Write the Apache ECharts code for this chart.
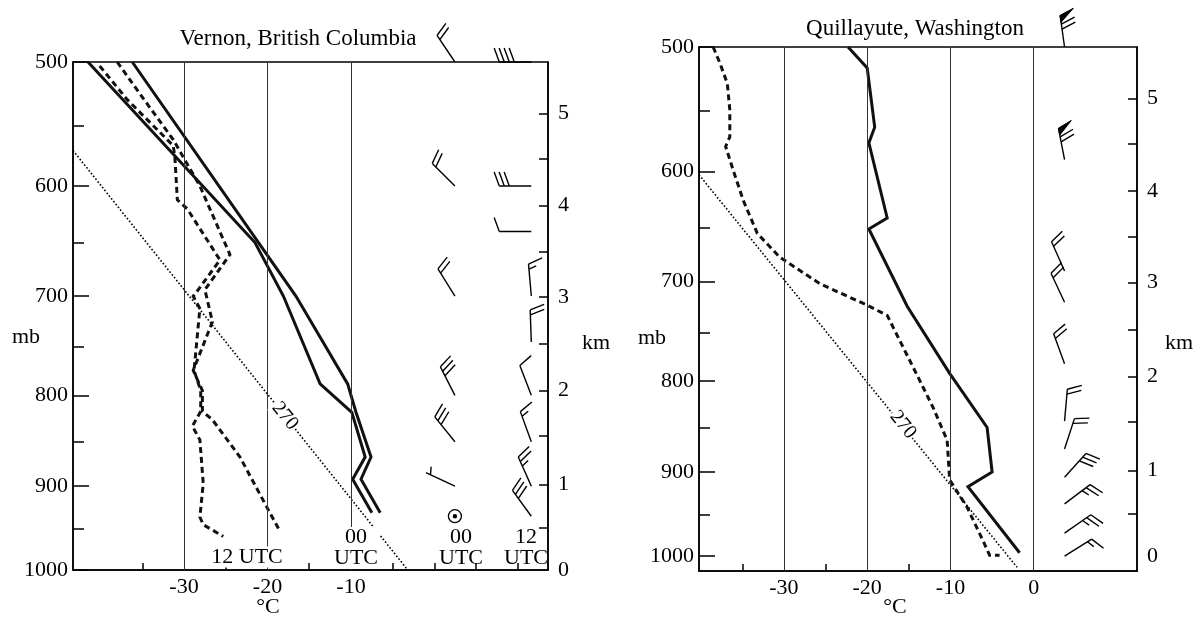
<!DOCTYPE html>
<html>
<head>
<meta charset="utf-8">
<script src="https://cdn.jsdelivr.net/npm/echarts@6/dist/echarts.min.js"></script>
<style>
  html, body { margin: 0; padding: 0; background: #fff; }
  #chart { width: 1202px; height: 618px; }
</style>
</head>
<body>
<div id="chart"></div>
<script>
// Stuve diagram: y is p^kappa, x is temperature
var KAPPA = 0.286;
function kap(p) { return Math.pow(p, KAPPA); }
function unkap(v) { return Math.pow(v, 1 / KAPPA); }

// axes
var pressureTicks = [500, 600, 700, 800, 900, 1000];
var pressureMinorTicks = [550, 650, 750, 850, 950];
var kmTicks = [0, 0.5, 1, 1.5, 2, 2.5, 3, 3.5, 4, 4.5, 5];
var kmPressure = [1000, 949, 898, 844, 795, 747, 701, 658, 617, 577, 540];
var vernonTempLabels = [-30, -20, -10];
var vernonTempTicks = [-35, -25, -15, -5, 0, 5, 10];
var quillTempLabels = [-30, -20, -10, 0];
var quillTempTicks = [-35, -25, -15];

// Vernon soundings [T degC, p mb]
var vernonTemp12 = [[-41.5, 500], [-21.5, 650], [-18.1, 700], [-13.7, 788], [-9.9, 818], [-8.3, 867], [-9.8, 892], [-7.5, 931]];
var vernonTemp00 = [[-36.2, 500], [-16.6, 700], [-10.4, 788], [-9.4, 818], [-7.6, 867], [-8.8, 892], [-6.5, 931]];
var vernonDew00 = [[-38.0, 500], [-35.0, 527], [-31.3, 561], [-28.1, 600], [-24.5, 661], [-27.5, 694], [-26.6, 725],
  [-28.9, 774], [-27.8, 795], [-27.8, 817], [-26.6, 826], [-23.3, 867], [-20.1, 924], [-18.5, 953]];
var vernonDew12 = [[-40.1, 503], [-36.8, 529], [-31.3, 566], [-31.1, 575], [-30.8, 612], [-29.6, 620], [-25.7, 666],
  [-28.3, 694], [-28.9, 700], [-28.1, 712], [-28.8, 774], [-28.0, 795], [-28.0, 817], [-29.0, 833], [-28.1, 848],
  [-27.7, 897], [-28.1, 936], [-27.7, 945], [-25.3, 959]];
var vernonAdiabat = [[-43.3, 570], [-3.2, 1000]];
var vernonAdiabatLabel = [-17.9, 822];

// Vernon winds: pressure, direction (deg), speed (kt); 0 kt = calm
var vernonWindP00 = [500, 600, 700, 800, 850, 900, 935];
var vernonWindDir00 = [326, 315, 328, 333, 321, 295, 0];
var vernonWindKt00 = [20, 20, 20, 30, 30, 5, 0];
var vernonWindP12 = [500, 600, 640, 700, 745, 800, 850, 900, 935];
var vernonWindDir12 = [270, 270, 270, 355, 358, 339, 340, 336, 324];
var vernonWindKt12 = [40, 30, 10, 15, 20, 10, 15, 25, 30];

// Quillayute sounding
var quillTemp = [[-22.3, 500], [-20.0, 516], [-19.1, 563], [-19.8, 576], [-17.6, 641], [-19.8, 651], [-15.2, 724],
  [-10.1, 792], [-5.6, 850], [-5.0, 900], [-7.9, 917], [-1.7, 996]];
var quillDew = [[-38.5, 500], [-37.7, 512], [-36.8, 528], [-36.5, 549], [-36.5, 571], [-37.0, 579], [-36.1, 599],
  [-34.9, 625], [-33.2, 655], [-30.5, 677], [-25.7, 702], [-20.0, 723], [-17.6, 733], [-16.1, 758], [-14.0, 794],
  [-12.1, 828], [-10.4, 864], [-10.1, 909], [-8.0, 941], [-6.1, 981], [-5.3, 999], [-4.1, 999]];
var quillAdiabat = [[-40.2, 603], [-2.0, 1014]];
var quillAdiabatLabel = [-15.7, 847];
var quillWindP = [500, 590, 690, 720, 782, 843, 874, 906, 937, 972, 1000];
var quillWindDir = [352, 349, 336, 335, 340, 5, 18, 42, 53, 55, 58];
var quillWindKt = [70, 70, 20, 20, 20, 20, 20, 30, 25, 25, 15];

var FONT = '"Liberation Serif", "DejaVu Serif", serif';
var STAFF = 32, FULL = 15, HALF = 8, GAP = 5, FLAG_W = 7, BARB_ANGLE = 70;

function toXY(arr) {
  return arr.map(function (d) { return [d[0], kap(d[1])]; });
}
function windData(col, ps, dirs, kts) {
  return ps.map(function (p, i) { return [col, kap(p), dirs[i], kts[i]]; });
}

function renderBarb(params, api) {
  var b = api.coord([api.value(0), api.value(1)]);
  var speed = api.value(3);
  var st = { stroke: '#000', lineWidth: 1.4, fill: null };
  if (speed === 0) {
    return { type: 'group', children: [
      { type: 'circle', shape: { cx: b[0], cy: b[1], r: 6.5 }, style: { stroke: '#000', fill: '#fff', lineWidth: 1.3 } },
      { type: 'circle', shape: { cx: b[0], cy: b[1], r: 2.2 }, style: { fill: '#000' } }
    ] };
  }
  var dir = api.value(2) * Math.PI / 180;
  var ux = Math.sin(dir), uy = -Math.cos(dir);
  var a = BARB_ANGLE * Math.PI / 180;
  var wx = ux * Math.cos(a) - uy * Math.sin(a);
  var wy = ux * Math.sin(a) + uy * Math.cos(a);
  var tx = b[0] + ux * STAFF, ty = b[1] + uy * STAFF;
  var kids = [{ type: 'line', shape: { x1: b[0], y1: b[1], x2: tx, y2: ty }, style: st }];
  var rest = Math.round(speed / 5) * 5;
  var d = 0;
  while (rest >= 50) {
    var px = tx - ux * d, py = ty - uy * d;
    kids.push({ type: 'polygon', shape: { points: [[px, py], [px + wx * FULL, py + wy * FULL],
      [px - ux * FLAG_W, py - uy * FLAG_W]] }, style: { fill: '#000', stroke: '#000', lineWidth: 1 } });
    d += FLAG_W + 2;
    rest -= 50;
  }
  while (rest >= 10) {
    var qx = tx - ux * d, qy = ty - uy * d;
    kids.push({ type: 'line', shape: { x1: qx, y1: qy, x2: qx + wx * FULL, y2: qy + wy * FULL }, style: st });
    d += GAP;
    rest -= 10;
  }
  if (rest >= 5) {
    if (d === 0) d = GAP;
    var hx = tx - ux * d, hy = ty - uy * d;
    kids.push({ type: 'line', shape: { x1: hx, y1: hy, x2: hx + wx * HALF, y2: hy + wy * HALF }, style: st });
  }
  return { type: 'group', children: kids };
}

function curve(name, data, xi, yi, dashed) {
  return {
    name: name, type: 'line', xAxisIndex: xi, yAxisIndex: yi,
    data: toXY(data), showSymbol: false, z: 4,
    lineStyle: { color: '#111', width: 3, type: dashed ? [6, 4] : 'solid', cap: 'butt', join: 'miter' }
  };
}

function adiabat(data, label, isotherms, xi, yi) {
  return {
    name: '270 K', type: 'line', xAxisIndex: xi, yAxisIndex: yi,
    data: toXY(data), showSymbol: false, z: 3,
    lineStyle: { color: '#000', width: 1.6, type: [1.6, 2] },
    markLine: {
      silent: true, symbol: 'none', label: { show: false },
      lineStyle: { color: '#333', width: 1, type: 'solid' },
      data: isotherms.map(function (v) { return { xAxis: v }; })
    },
    markPoint: {
      silent: true, symbol: 'circle', symbolSize: 1, itemStyle: { color: 'rgba(0,0,0,0)' },
      label: { show: true, position: 'inside', formatter: '270', rotate: -51, color: '#000',
        fontFamily: FONT, fontSize: 20, backgroundColor: '#fff', padding: [0, 1] },
      data: [{ coord: [label[0], kap(label[1])] }]
    }
  };
}

function barbs(name, data, xi, yi) {
  return { name: name, type: 'custom', xAxisIndex: xi, yAxisIndex: yi, clip: false, z: 6,
    encode: { x: 0, y: 1 }, renderItem: renderBarb, data: data };
}

function xAxis(gi, min, max, labels, ticks) {
  return {
    type: 'value', gridIndex: gi, min: min, max: max, position: 'bottom',
    axisLine: { show: true, onZero: false, lineStyle: { color: '#000', width: 1.5 } },
    axisTick: { show: true, inside: true, length: 7, customValues: ticks, lineStyle: { color: '#000', width: 1.5 } },
    axisLabel: { customValues: labels, margin: 6, color: '#000', fontFamily: FONT, fontSize: 22,
      formatter: function (v) { return String(v); } },
    splitLine: { show: false }
  };
}

function pressAxis(gi, maxP) {
  return {
    type: 'value', gridIndex: gi, inverse: true, position: 'left',
    min: kap(500), max: kap(maxP),
    axisLine: { show: true, onZero: false, lineStyle: { color: '#000', width: 1.5 } },
    axisTick: { show: true, inside: true, length: 16, customValues: pressureTicks.map(kap),
      lineStyle: { color: '#000', width: 1.5 } },
    axisLabel: { customValues: pressureTicks.map(kap), margin: 5, color: '#000', fontFamily: FONT, fontSize: 22,
      formatter: function (v) { return String(Math.round(unkap(v))); } },
    splitLine: { show: false }
  };
}

function minorAxis(gi, maxP) {
  return {
    type: 'value', gridIndex: gi, inverse: true, position: 'left',
    min: kap(500), max: kap(maxP),
    axisLine: { show: false, onZero: false },
    axisTick: { show: true, inside: true, length: 11, customValues: pressureMinorTicks.map(kap),
      lineStyle: { color: '#000', width: 1.5 } },
    axisLabel: { show: false },
    splitLine: { show: false }
  };
}

function kmAxis(gi, maxP) {
  var tickVals = kmPressure.slice(1).map(kap);
  var labelVals = [];
  kmTicks.forEach(function (k, i) { if (k % 1 === 0) labelVals.push(kap(kmPressure[i])); });
  return {
    type: 'value', gridIndex: gi, inverse: true, position: 'right',
    min: kap(500), max: kap(maxP),
    axisLine: { show: true, onZero: false, lineStyle: { color: '#000', width: 1.5 } },
    axisTick: { show: true, inside: true, length: 9, customValues: tickVals,
      lineStyle: { color: '#000', width: 1.5 } },
    axisLabel: { customValues: labelVals, margin: 10, color: '#000', fontFamily: FONT, fontSize: 22,
      formatter: function (v) {
        for (var i = 0; i < kmPressure.length; i++) {
          if (Math.abs(kap(kmPressure[i]) - v) < 1e-6) return String(kmTicks[i]);
        }
        return '';
      } },
    splitLine: { show: false }
  };
}

function txt(x, y, s, bg, size) {
  var style = { text: s, font: (size || 22) + 'px ' + FONT, fill: '#000', align: 'center', verticalAlign: 'middle',
    textAlign: 'center', textVerticalAlign: 'middle', lineHeight: 21 };
  if (bg) { style.backgroundColor = '#fff'; style.padding = [0, 2]; }
  return { type: 'text', x: x, y: y, z: 100, silent: true, style: style };
}

var QUILL_BOTTOM = 1018.6;

var chart = echarts.init(document.getElementById('chart'), null, { renderer: 'canvas' });
var option = {
  animation: false,
  backgroundColor: '#fff',
  grid: [
    { left: 73, top: 62, width: 475, height: 508, show: true, borderColor: '#000', borderWidth: 1.5,
      containLabel: false, outerBoundsMode: 'none' },
    { left: 699, top: 47, width: 438, height: 524, show: true, borderColor: '#000', borderWidth: 1.5,
      containLabel: false, outerBoundsMode: 'none' }
  ],
  xAxis: [
    xAxis(0, -43.3, 13.6, vernonTempLabels, vernonTempTicks),
    xAxis(1, -40.2, 12.4, quillTempLabels, quillTempTicks)
  ],
  yAxis: [
    pressAxis(0, 1000), minorAxis(0, 1000), kmAxis(0, 1000),
    pressAxis(1, QUILL_BOTTOM), minorAxis(1, QUILL_BOTTOM), kmAxis(1, QUILL_BOTTOM)
  ],
  series: [
    adiabat(vernonAdiabat, vernonAdiabatLabel, vernonTempLabels, 0, 0),
    curve('T 12 UTC', vernonTemp12, 0, 0, false),
    curve('T 00 UTC', vernonTemp00, 0, 0, false),
    curve('Td 00 UTC', vernonDew00, 0, 0, true),
    curve('Td 12 UTC', vernonDew12, 0, 0, true),
    barbs('Wind 00 UTC', windData(2.45, vernonWindP00, vernonWindDir00, vernonWindKt00), 0, 0),
    barbs('Wind 12 UTC', windData(11.6, vernonWindP12, vernonWindDir12, vernonWindKt12), 0, 0),

    adiabat(quillAdiabat, quillAdiabatLabel, quillTempLabels, 1, 3),
    curve('T', quillTemp, 1, 3, false),
    curve('Td', quillDew, 1, 3, true),
    barbs('Wind', windData(3.7, quillWindP, quillWindDir, quillWindKt), 1, 3)
  ],
  graphic: [
    txt(298, 39, 'Vernon, British Columbia', false, 23),
    txt(915, 29, 'Quillayute, Washington', false, 23),
    txt(26, 337, 'mb'),
    txt(652, 338, 'mb'),
    txt(596, 343, 'km'),
    txt(1179, 343, 'km'),
    txt(268, 607, '°C'),
    txt(895, 607, '°C'),
    txt(247, 557, '12 UTC', true),
    txt(356, 548, '00\nUTC', true),
    txt(461, 548, '00\nUTC'),
    txt(526, 548, '12\nUTC')
  ]
};
chart.setOption(option);
</script>
</body>
</html>
